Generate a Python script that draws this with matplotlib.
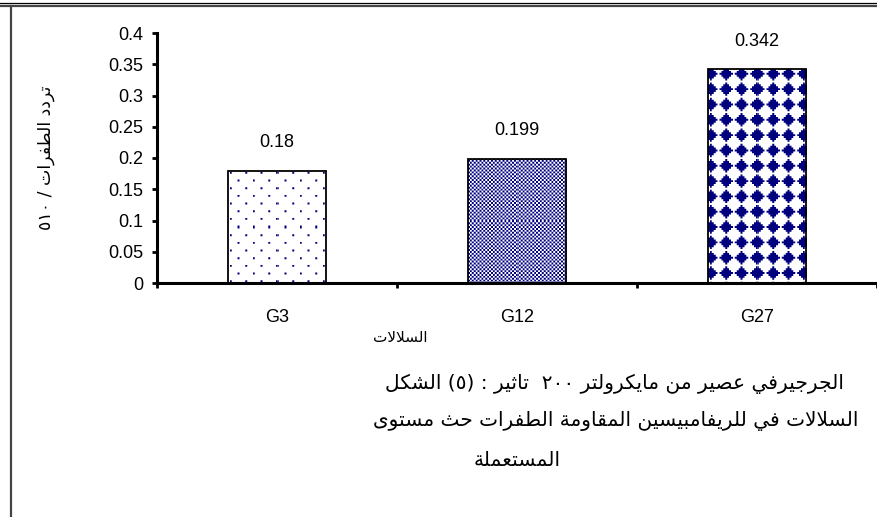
import numpy as np
import matplotlib
matplotlib.use("Agg")
import matplotlib.pyplot as plt
from matplotlib.lines import Line2D

# ---------------- data ----------------
strains = ["G3", "G12", "G27"]
mutation_freq = [0.18, 0.199, 0.342]
y_ticks = [0, 0.05, 0.1, 0.15, 0.2, 0.25, 0.3, 0.35, 0.4]
x_title = "السلالات"
y_title_words = ["٥١٠", "/", "الطفرات", "تردد"]          # left-to-right on the rotated line
caption_lines = [
    ["الشكل", "(٥)", ":", "تاثير", "", "٢٠٠", "مايكرولتر", "من", "عصير", "الجرجيرفي"],
    ["مستوى", "حث", "الطفرات", "المقاومة", "للريفامبيسين", "في", "السلالات"],
    ["المستعملة"],
]

# ---------------- Arabic contextual shaping ----------------
FORMS = {
    'ء': (0xFE80, 1), 'آ': (0xFE81, 2), 'أ': (0xFE83, 2), 'ؤ': (0xFE85, 2),
    'إ': (0xFE87, 2), 'ئ': (0xFE89, 4), 'ا': (0xFE8D, 2), 'ب': (0xFE8F, 4),
    'ة': (0xFE93, 2), 'ت': (0xFE95, 4), 'ث': (0xFE99, 4), 'ج': (0xFE9D, 4),
    'ح': (0xFEA1, 4), 'خ': (0xFEA5, 4), 'د': (0xFEA9, 2), 'ذ': (0xFEAB, 2),
    'ر': (0xFEAD, 2), 'ز': (0xFEAF, 2), 'س': (0xFEB1, 4), 'ش': (0xFEB5, 4),
    'ص': (0xFEB9, 4), 'ض': (0xFEBD, 4), 'ط': (0xFEC1, 4), 'ظ': (0xFEC5, 4),
    'ع': (0xFEC9, 4), 'غ': (0xFECD, 4), 'ف': (0xFED1, 4), 'ق': (0xFED5, 4),
    'ك': (0xFED9, 4), 'ل': (0xFEDD, 4), 'م': (0xFEE1, 4), 'ن': (0xFEE5, 4),
    'ه': (0xFEE9, 4), 'و': (0xFEED, 2), 'ى': (0xFEEF, 2), 'ي': (0xFEF1, 4),
}
LAM_ALEF = {'ا': 0xFEFB, 'أ': 0xFEF7, 'إ': 0xFEF9, 'آ': 0xFEF5}


def shape_word(word):
    if not any(c in FORMS for c in word):
        return word
    units, i = [], 0
    while i < len(word):
        c = word[i]
        if c == 'ل' and i + 1 < len(word) and word[i + 1] in LAM_ALEF:
            units.append(('LA', LAM_ALEF[word[i + 1]]))
            i += 2
        else:
            units.append(('C', c))
            i += 1

    def joins_next(u):
        return u[0] == 'C' and u[1] in FORMS and FORMS[u[1]][1] == 4

    def joins_prev(u):
        return u[0] == 'LA' or (u[1] in FORMS and FORMS[u[1]][1] >= 2)

    out = []
    for k, u in enumerate(units):
        p = k > 0 and joins_next(units[k - 1]) and joins_prev(u)
        n = k + 1 < len(units) and joins_next(u) and joins_prev(units[k + 1])
        if u[0] == 'LA':
            out.append(chr(u[1] + (1 if p else 0)))
            continue
        c = u[1]
        if c not in FORMS:
            out.append(c)
            continue
        base, nf = FORMS[c]
        if nf == 4:
            idx = {(False, False): 0, (True, False): 1,
                   (False, True): 2, (True, True): 3}[(p, n)]
        elif nf == 2:
            idx = 1 if p else 0
        else:
            idx = 0
        out.append(chr(base + idx))
    return "".join(reversed(out))


def shape_line(words):
    return " ".join(shape_word(w) for w in words)


# ---------------- fill patterns (8x8 tiles) ----------------
tile_dots = np.zeros((8, 8))
tile_dots[0, 0] = 1
tile_dots[4, 4] = 1
tile_checker = np.indices((8, 8)).sum(axis=0) % 2
tile_diamond = np.array([
    [0, 0, 0, 1, 0, 0, 0, 0],
    [0, 0, 1, 1, 1, 0, 0, 0],
    [0, 1, 1, 1, 1, 1, 0, 0],
    [1, 1, 1, 1, 1, 1, 1, 0],
    [0, 1, 1, 1, 1, 1, 0, 0],
    [0, 0, 1, 1, 1, 0, 0, 0],
    [0, 0, 0, 1, 0, 0, 0, 0],
    [0, 0, 0, 0, 0, 0, 0, 0],
], dtype=float)
tiles = [tile_dots, tile_checker, tile_diamond]
tile_offsets = [(3, 3), (0, 0), (1, 2)]
NAVY = np.array([0.0, 0.0, 0.5])
WHITE = np.array([1.0, 1.0, 1.0])


def texture(tile, w_px, h_px, offset=(0, 0), scale=1.916, ss=4):
    ys = (np.arange(h_px * ss) + 0.5) / ss
    xs = (np.arange(w_px * ss) + 0.5) / ss
    v = ((ys / scale).astype(int) + offset[0]) % tile.shape[0]
    u = ((xs / scale).astype(int) + offset[1]) % tile.shape[1]
    ink = tile[np.ix_(v, u)].astype(float)
    ink = ink.reshape(h_px, ss, w_px, ss).mean(axis=(1, 3))
    return WHITE * (1 - ink[..., None]) + NAVY * ink[..., None]


# ---------------- figure ----------------
W, H = 877, 517
fig = plt.figure(figsize=(W / 100, H / 100), dpi=100)
num_font = "Liberation Sans"
ar_font = ["DejaVu Sans"]
num_size = 13

ax_left, ax_right, ax_top, ax_bottom = 157, 877, 33, 283
ax = fig.add_axes([ax_left / W, 1 - ax_bottom / H,
                   (ax_right - ax_left) / W, (ax_bottom - ax_top) / H])
ax.set_xlim(-0.5, 2.5)
ax.set_ylim(0, 0.4)

xpos = np.arange(len(strains))
bar_w = 0.41
bars = ax.bar(xpos, mutation_freq, width=bar_w, facecolor="none",
              edgecolor="black", linewidth=1.3, zorder=3)

for b, tile, off in zip(bars, tiles, tile_offsets):
    x0, x1 = b.get_x(), b.get_x() + b.get_width()
    y0, y1 = 0, b.get_height()
    p0 = ax.transData.transform((x0, y0))
    p1 = ax.transData.transform((x1, y1))
    w_px = max(1, int(round(p1[0] - p0[0])))
    h_px = max(1, int(round(p1[1] - p0[1])))
    img = texture(tile, w_px, h_px, off)
    im = ax.imshow(img, extent=(x0, x1, y0, y1), origin="upper",
                   aspect="auto", interpolation="nearest", zorder=2)
    im.set_clip_path(b)

ax.set_xlim(-0.5, 2.5)
ax.set_ylim(0, 0.4)

for b, v in zip(bars, mutation_freq):
    ax.annotate(f"{v:g}", (b.get_x() + b.get_width() / 2, v),
                xytext=(0, 28), textcoords="offset pixels",
                ha="center", va="center", fontsize=num_size,
                family=num_font, zorder=4)

for s in ("top", "right"):
    ax.spines[s].set_visible(False)
for s in ("left", "bottom"):
    ax.spines[s].set_linewidth(2.2)

ax.set_yticks(y_ticks)
ax.set_yticklabels([f"{t:g}" for t in y_ticks], family=num_font,
                   fontsize=num_size)
ax.tick_params(axis="y", direction="out", length=3.6, width=2, pad=6.5)

ax.set_xticks(xpos)
ax.set_xticklabels(strains, family=num_font, fontsize=num_size)
ax.set_xticks([-0.5, 0.5, 1.5, 2.5], minor=True)
ax.tick_params(axis="x", which="major", length=0, pad=18.5)
ax.tick_params(axis="x", which="minor", direction="out", length=3.6, width=2)

# axis titles
fig.text(400 / W, 1 - 338 / H, shape_word(x_title), ha="center", va="center",
         fontsize=11, family=ar_font)
fig.text(46 / W, 1 - 158 / H, shape_line(y_title_words), ha="center",
         va="center", rotation=90, fontsize=12.5, family=ar_font)

# caption (line centre x, line centre y in pixels)
caption_pos = [(614, 384), (616, 421), (517, 460)]
for line, (xc, yc) in zip(caption_lines, caption_pos):
    fig.text(xc / W, 1 - yc / H, shape_line(line), ha="center", va="center",
             fontsize=14.5, family=ar_font)

# frame lines
fig.add_artist(Line2D([0, 1], [1 - 3 / H, 1 - 3 / H], color="black",
                      linewidth=0.9, transform=fig.transFigure))
fig.add_artist(Line2D([0, 1], [1 - 5.5 / H, 1 - 5.5 / H], color="#444444",
                      linewidth=1.6, transform=fig.transFigure))
fig.add_artist(Line2D([11 / W, 11 / W], [0, 1 - 6 / H], color="#444444",
                      linewidth=1.6, transform=fig.transFigure))

fig.savefig("out.png", dpi=100)
